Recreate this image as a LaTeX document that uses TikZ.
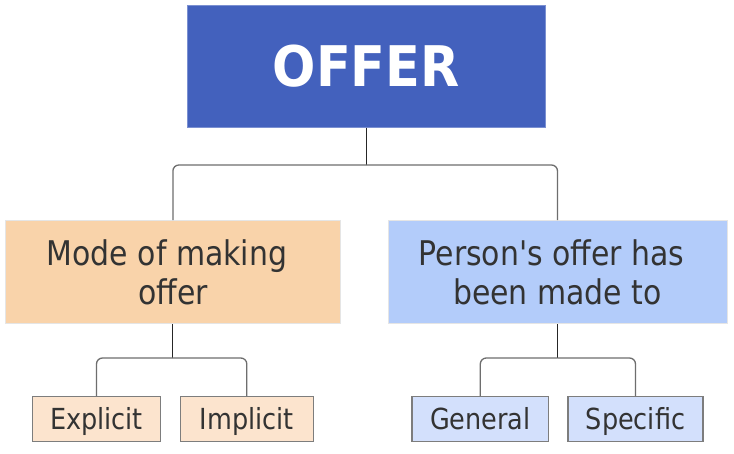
\documentclass[tikz,border=0pt]{standalone}
\usepackage{fontspec}
\setmainfont{DejaVu Sans}
\newfontfamily\tah[FakeStretch=0.88]{DejaVu Sans}
\newfontfamily\tahb[FakeStretch=0.91]{DejaVu Sans Bold}
\definecolor{offerblue}{HTML}{4361BD}
\definecolor{modefill}{HTML}{F9D3AA}
\definecolor{personfill}{HTML}{B3CCFA}
\definecolor{leafor}{HTML}{FCE4CE}
\definecolor{leafbl}{HTML}{D3E0FC}
\definecolor{txt}{HTML}{333333}
\definecolor{linegray}{HTML}{6E6E6E}
\begin{document}
\begin{tikzpicture}[x=1pt,y=-1pt,
  topbox/.style={rectangle,inner sep=0pt,fill=offerblue,draw=offerblue!70!white,line width=0.8pt,text=white,font=\tahb\fontsize{56}{60}\selectfont},
  midbox/.style={rectangle,inner sep=0pt,minimum height=103.3pt,draw=black!10,line width=1pt,text=txt,align=center,font=\tah\fontsize{34}{39}\selectfont},
  leafbox/.style={rectangle,inner sep=0pt,minimum height=45pt,text height=24pt,text depth=4.4pt,draw=linegray!90,line width=1.2pt,text=txt,font=\tah\fontsize{29}{32}\selectfont},
  stub/.style={draw=black!85,line width=0.9pt},
  branch/.style={draw=linegray,line width=1.3pt,rounded corners=6pt}]
\useasboundingbox (0,0) rectangle (734,454);
\fill[white] (0,0) rectangle (734,454);

\node[topbox,minimum width=357.7pt,minimum height=122.3pt] (offer) at (366.2,66.2) {OFFER};

\node[midbox,fill=modefill,minimum width=334.3pt] (mode) at (172.9,272.3) {Mode of making\hspace*{0.35em}\\offer};
\node[midbox,fill=personfill,minimum width=339pt] (person) at (557.5,272.3) {Person's offer has\hspace*{0.35em}\\been made to};

\node[leafbox,fill=leafor,minimum width=128.4pt] (explicit) at (96.5,419.2) {Explicit};
\node[leafbox,fill=leafor,minimum width=133pt] (implicit) at (246.8,419.2) {Implicit};
\node[leafbox,fill=leafbl,minimum width=136.7pt] (general) at (480.3,419.2) {General};
\node[leafbox,fill=leafbl,minimum width=135pt] (specific) at (635.5,419.2) {Specific};

\coordinate (j1) at (366.2,165);
\coordinate (j2) at (172.9,358);
\coordinate (j3) at (557.5,358);

\draw[stub] (offer.south) -- (j1);
\draw[branch] (j1) -| (mode.north);
\draw[branch] (j1) -| (person.north);

\draw[stub] (mode.south) -- (j2);
\draw[branch] (j2) -| (explicit.north);
\draw[branch] (j2) -| (implicit.north);

\draw[stub] (person.south) -- (j3);
\draw[branch] (j3) -| (general.north);
\draw[branch] (j3) -| (specific.north);
\end{tikzpicture}
\end{document}
